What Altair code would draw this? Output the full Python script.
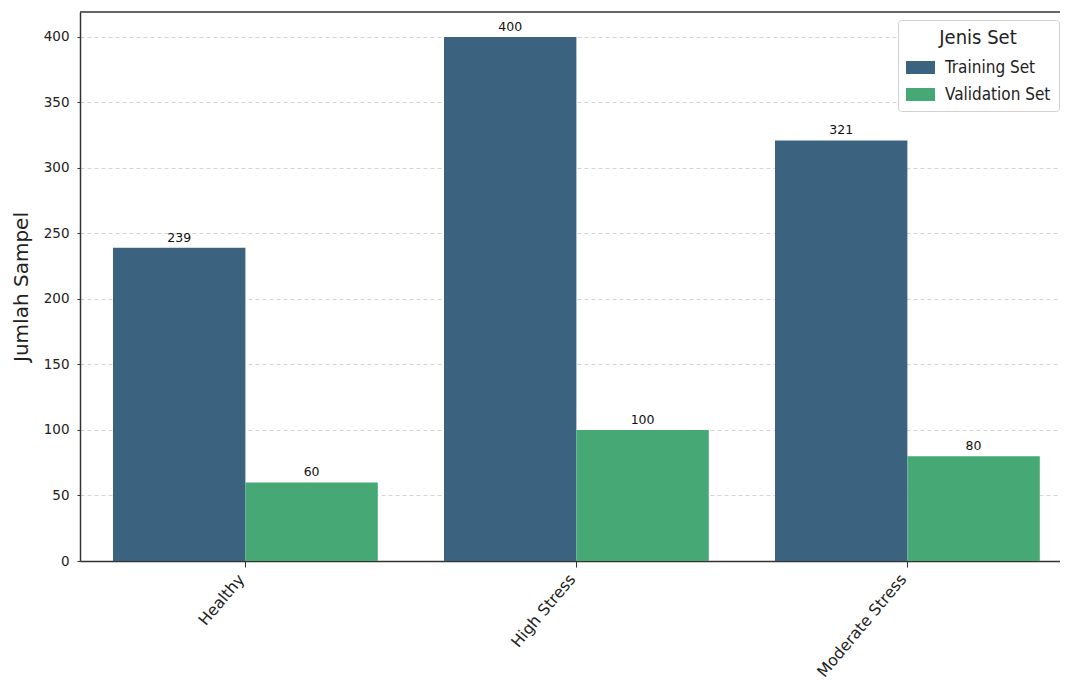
import altair as alt
import pandas as pd

categories = ["Healthy", "High Stress", "Moderate Stress"]
training = [239, 400, 321]
validation = [60, 100, 80]
series = ["Training Set", "Validation Set"]
colors = ["#3b6380", "#45a875"]
ticks = [0, 50, 100, 150, 200, 250, 300, 350, 400]

rows = []
for c, t, v in zip(categories, training, validation):
    rows.append({"cat": c, "set": series[0], "n": t})
    rows.append({"cat": c, "set": series[1], "n": v})
df = pd.DataFrame(rows)

x = alt.X("cat:N", sort=categories, title=None,
          scale=alt.Scale(paddingInner=0.2, paddingOuter=0.0804, align=0.62),
          axis=alt.Axis(labelAngle=-50, labelAlign="right", labelBaseline="middle", labelFontSize=15.8,
                        labelColor="#222222", tickColor="#333333", domainColor="#333333", domainWidth=1.5,
                        tickSize=6, labelPadding=9, labelOffset=-4, labelFont="DejaVu Sans", grid=False,
                        labelBound=False, labelOverlap=False))
xo = alt.XOffset("set:N", sort=series)
y = alt.Y("n:Q", title="Jumlah Sampel", scale=alt.Scale(domain=[0, 419], nice=False),
          axis=alt.Axis(values=ticks, labelFontSize=13.5, labelColor="#222222", titleFontSize=20,
                        titleFontWeight="normal", titleColor="#222222", titleFont="DejaVu Sans", labelFont="DejaVu Sans",
                        tickSize=3, labelPadding=8, titlePadding=12, tickColor="#333333", domainColor="#333333",
                        domainWidth=1.5, grid=True, gridDash=[4, 3], gridColor="#d4d4d4"))

bars = alt.Chart(df).mark_bar().encode(
    x=x, xOffset=xo, y=y,
    color=alt.Color("set:N", sort=series, scale=alt.Scale(domain=series, range=colors),
                    legend=alt.Legend(title="Jenis Set", orient="none", legendX=818, legendY=8,
                                      titleFontSize=20, labelFontSize=17, titleFontWeight="normal",
                                      fillColor="white", strokeColor="#d0d0d0", cornerRadius=3, padding=8,
                                      symbolType="M-1,-0.45H1V0.45H-1Z", symbolSize=841, symbolStrokeWidth=0,
                                      rowPadding=4, titleAnchor="middle", titleColor="#222222", labelColor="#222222",
                                      labelFont="DejaVu Sans Condensed", titleFont="DejaVu Sans Condensed",
                                      labelOffset=10, titlePadding=5)),
)
labels = alt.Chart(df).mark_text(baseline="bottom", dy=-3, fontSize=12.5, color="#111111", font="DejaVu Sans").encode(
    x=x, xOffset=xo, y=y, text="n:Q")
top_line = alt.Chart(pd.DataFrame({"v": [1]})).mark_rule(color="#333333", strokeWidth=1.5).encode(y=alt.value(0))

chart = (bars + labels + top_line).properties(
    width=980, height=549,
    autosize=alt.AutoSizeParams(type="none"),
    padding={"left": 72, "top": 4, "right": 0, "bottom": 123},
).configure_view(stroke=None)
chart.save("out.html", embed_options={"renderer": "svg", "actions": False})
